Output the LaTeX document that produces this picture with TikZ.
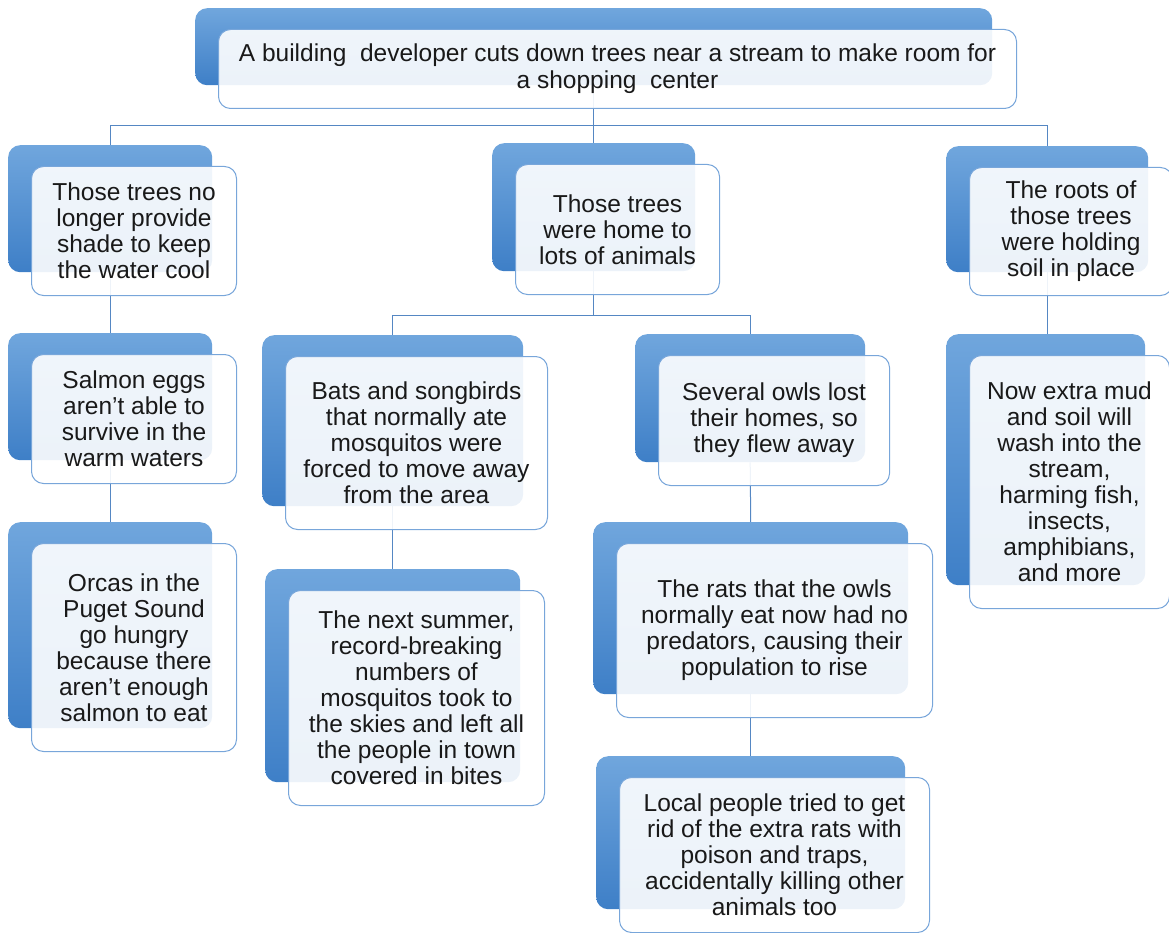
\documentclass[tikz,border=0pt]{standalone}
\usepackage{fontspec}
\setmainfont{Liberation Sans}
\usetikzlibrary{backgrounds}
\definecolor{bktop}{RGB}{112,166,221}
\definecolor{bkbot}{RGB}{62,127,199}
\definecolor{frbord}{RGB}{120,166,218}
\definecolor{lnc}{RGB}{85,135,195}
\tikzset{
  backbox/.style={rounded corners=12pt, top color=bktop, bottom color=bkbot, draw=none, anchor=north west, inner sep=0pt},
  frontbox/.style={rounded corners=12pt, draw=frbord, line width=1pt, fill=white, fill opacity=0.9, text opacity=1, anchor=north west, inner sep=0pt, align=center, font=\fontsize{24.5}{26}\selectfont, text=black!90},
  conn/.style={draw=lnc, line width=1pt}
}
\newcommand\smbox[6]{%
  \node[backbox, minimum width=#4-#2, minimum height=#5-#3] (#1-bk) at (#2,#3) {};
  \node[frontbox, minimum width=#4-#2+1, minimum height=#5-#3+2] (#1) at (#2+23,#3+21) {#6};
}
\begin{document}
\begin{tikzpicture}[x=1pt,y=-1pt]
\useasboundingbox (0,0) rectangle (1169,933);
\smbox{top}{195}{8}{992}{85}{A building\ \ developer cuts down trees near a stream to make room for\\[1pt]a shopping\ \ center}
\smbox{A}{8}{145}{212}{272}{Those trees no\\longer provide\\shade to keep\\the water cool}
\smbox{B}{492}{143}{695}{271}{Those trees\\were home to\\lots of animals}
\smbox{C}{946}{146}{1148}{272}{The roots of\\those trees\\were holding\\soil in place}
\smbox{A1}{8}{333}{212}{460}{Salmon eggs\\aren’t able to\\survive in the\\warm waters}
\smbox{A2}{8}{522}{212}{728}{Orcas in the\\Puget Sound\\go hungry\\because there\\aren’t enough\\salmon to eat}
\smbox{B1}{262}{335}{523}{506}{Bats and songbirds\\that normally ate\\mosquitos were\\forced to move away\\from the area}
\smbox{B2}{265}{569}{520}{782}{The next summer,\\record-breaking\\numbers of\\mosquitos took to\\the skies and left all\\the people in town\\covered in bites}
\smbox{B3}{635}{334}{865}{462}{Several owls lost\\their homes, so\\they flew away}
\smbox{B4}{593}{522}{908}{694}{The rats that the owls\\normally eat now had no\\predators, causing their\\population to rise}
\smbox{B5}{596}{756}{905}{909}{Local people tried to get\\rid of the extra rats with\\poison and traps,\\accidentally killing other\\animals too}
\smbox{C1}{946}{334}{1145}{585}{Now extra mud\\and soil will\\wash into the\\stream,\\harming fish,\\insects,\\amphibians,\\and more}
\begin{scope}[on background layer]
  \draw[conn] (top-bk.south) -- ++(0,40) -| (A-bk.north);
  \draw[conn] (top-bk.south) -- ++(0,40) -| (C-bk.north);
  \draw[conn] (top-bk.south) -- ++(0,40) -| (B-bk.north);
  \draw[conn] (B-bk.south) -- ++(0,44) -| (B1-bk.north);
  \draw[conn] (B-bk.south) -- ++(0,44) -| (B3-bk.north);
  \draw[conn] (A-bk.south) -- (A1-bk.north);
  \draw[conn] (A1-bk.south) -- (A2-bk.north);
  \draw[conn] (B1-bk.south) -- (B2-bk.north);
  \draw[conn] (B3-bk.south) -- (B4-bk.north);
  \draw[conn] (B4-bk.south) -- (B5-bk.north);
  \draw[conn] (C-bk.south) -- (C-bk.south |- C1-bk.north);
\end{scope}
\end{tikzpicture}
\end{document}
